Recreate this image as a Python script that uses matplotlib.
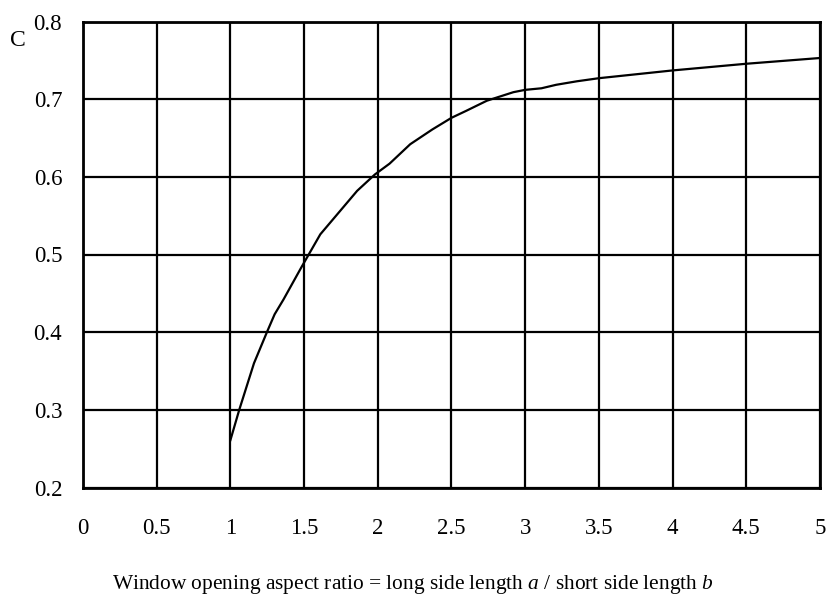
import matplotlib
matplotlib.use("Agg")
import matplotlib.pyplot as plt

# Data
aspect_ratio = [1.0, 1.06, 1.16, 1.25, 1.3, 1.36, 1.48, 1.61, 1.86, 1.98, 2.08,
                2.22, 2.37, 2.5, 2.6, 2.74, 2.92, 3.0, 3.11, 3.21, 3.35, 3.5,
                3.85, 4.0, 4.5, 5.0]
coef_c = [0.261, 0.300, 0.360, 0.401, 0.423, 0.442, 0.483, 0.526, 0.582, 0.603,
          0.617, 0.642, 0.661, 0.676, 0.685, 0.698, 0.709, 0.712, 0.714, 0.7185,
          0.723, 0.727, 0.734, 0.737, 0.7456, 0.753]
x_ticks = [0, 0.5, 1, 1.5, 2, 2.5, 3, 3.5, 4, 4.5, 5]
x_tick_labels = ["0", "0.5", "1", "1.5", "2", "2.5", "3", "3.5", "4", "4.5", "5"]
y_ticks = [0.2, 0.3, 0.4, 0.5, 0.6, 0.7, 0.8]
y_tick_labels = ["0.2", "0.3", "0.4", "0.5", "0.6", "0.7", "0.8"]

plt.rcParams['font.family'] = ['Liberation Serif', 'DejaVu Serif']
plt.rcParams['mathtext.fontset'] = 'custom'
plt.rcParams['mathtext.it'] = 'Liberation Serif:italic'
plt.rcParams['mathtext.rm'] = 'Liberation Serif'

fig = plt.figure(figsize=(8.26, 5.96), dpi=100)
W, H = 826, 596
left, right, top, bottom = 83, 820, 21.5, 487.5
ax = fig.add_axes([left / W, 1 - bottom / H, (right - left) / W, (bottom - top) / H])

ax.plot(aspect_ratio, coef_c, color='black', linewidth=1.6, zorder=3)

ax.set_xlim(0, 5)
ax.set_ylim(0.2, 0.8)
ax.set_xticks(x_ticks)
ax.set_xticklabels(x_tick_labels)
ax.set_yticks(y_ticks)
ax.set_yticklabels(y_tick_labels)
ax.grid(True, color='black', linewidth=1.6)
ax.tick_params(axis='both', length=0, labelsize=16.5, colors='black')
ax.tick_params(axis='y', pad=15)
ax.tick_params(axis='x', pad=22)
for s in ax.spines.values():
    s.set_linewidth(2)
    s.set_color('black')

fig.text(18 / W, 1 - 40 / H, "C", fontsize=17, ha='center', va='center')
fig.text(0.5, 1 - 589 / H,
         "Window opening aspect ratio = long side length $a$ / short side length $b$",
         fontsize=15.4, ha='center', va='baseline')

fig.savefig("out.png", dpi=100)
